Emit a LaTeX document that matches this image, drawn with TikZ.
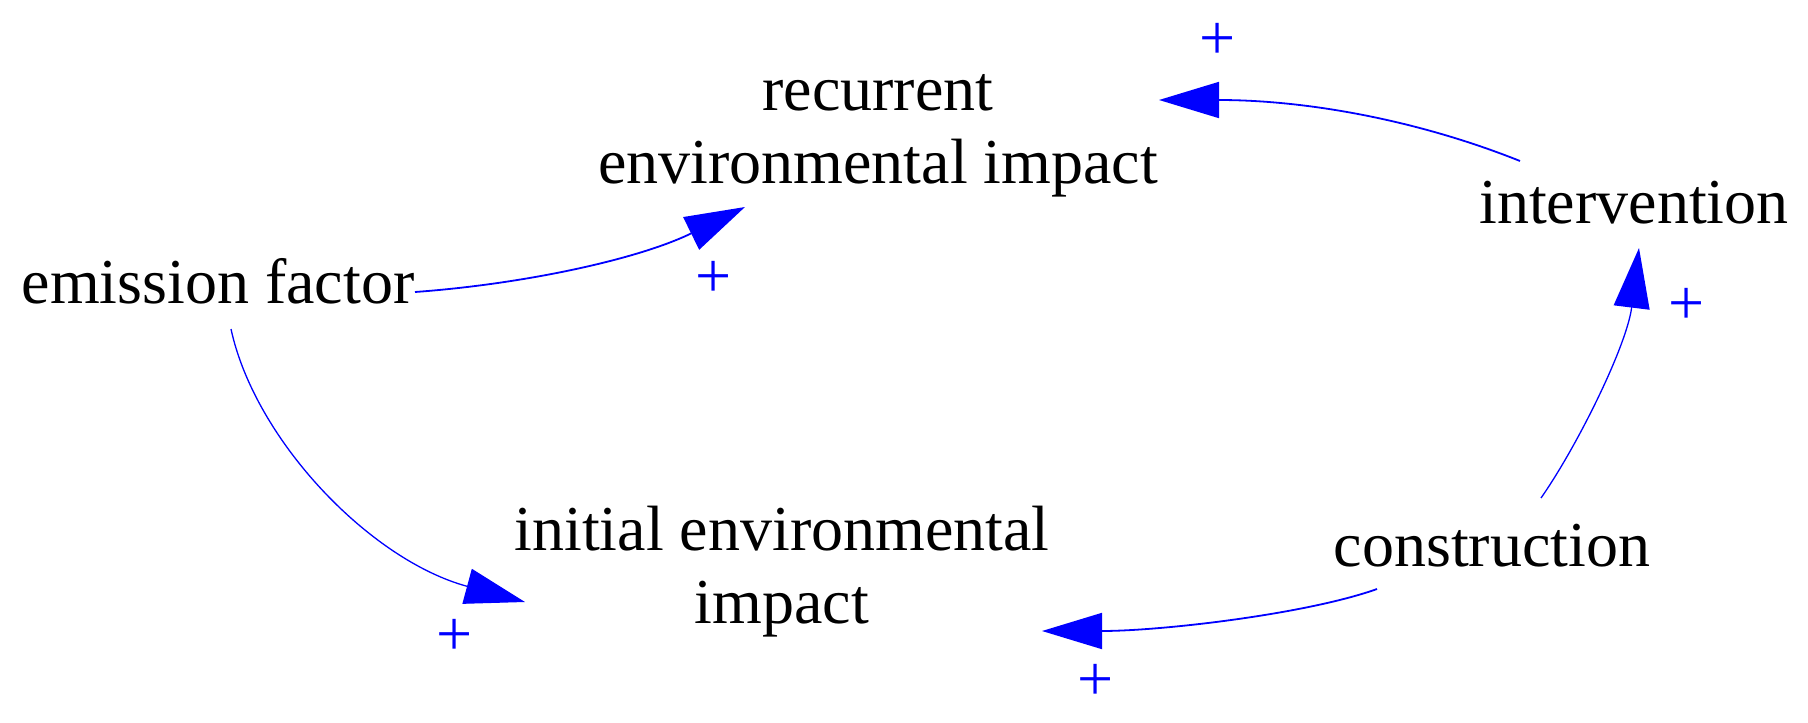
\documentclass[tikz,border=0pt]{standalone}
\usepackage{fontspec}
\setmainfont{Liberation Serif}
\usetikzlibrary{arrows.meta}
\begin{document}
\begin{tikzpicture}[x=1pt,y=-1pt,
  lbl/.style={font=\fontsize{64}{73}\selectfont, inner sep=0pt, align=center, anchor=base},
  link/.style={draw=blue, line width=1.8pt, -{Triangle[length=60pt,width=36pt]}},
  thinlink/.style={link, line width=1.3pt},
  pol/.style={font=\fontsize{64}{64}\selectfont, text=blue, inner sep=0pt}]
\useasboundingbox[fill=white] (0,0) rectangle (1808,723);
% variables (base anchor = baseline of the last line)
\node[lbl] (rec) at (878,183) {recurrent\\environmental impact};
\node[lbl] (ef) at (218,303) {emission factor};
\node[lbl] (int) at (1634,223) {intervention};
\node[lbl] (con) at (1492,566) {construction};
\node[lbl] (ini) at (782,623) {initial environmental\\impact};
% connector end points
\coordinate (s1) at (415,292); \coordinate (t1) at (745,207);
\coordinate (s2) at (1520,161); \coordinate (t2) at (1159,100);
\coordinate (s3) at (1541,498); \coordinate (t3) at (1639,248);
\coordinate (s4) at (1377,589); \coordinate (t4) at (1042,631);
\coordinate (s5) at (231,329); \coordinate (t5) at (525,602);
% connectors
\draw[link] (s1) .. controls (525,284) and (639,259) .. (t1);
\draw[link] (s2) .. controls (1420,121) and (1309,100) .. (t2);
\draw[thinlink] (s3) .. controls (1578,445) and (1627,345) .. (t3);
\draw[link] (s4) .. controls (1307,614) and (1162,631) .. (t4);
\draw[thinlink] (s5) .. controls (255,440) and (370,560) .. (t5);
% polarities
\node[pol] (p1) at (714,279) {+};
\node[pol] (p2) at (1218,41) {+};
\node[pol] (p3) at (1687,306) {+};
\node[pol] (p4) at (1096,682) {+};
\node[pol] (p5) at (455,637) {+};
\end{tikzpicture}
\end{document}
